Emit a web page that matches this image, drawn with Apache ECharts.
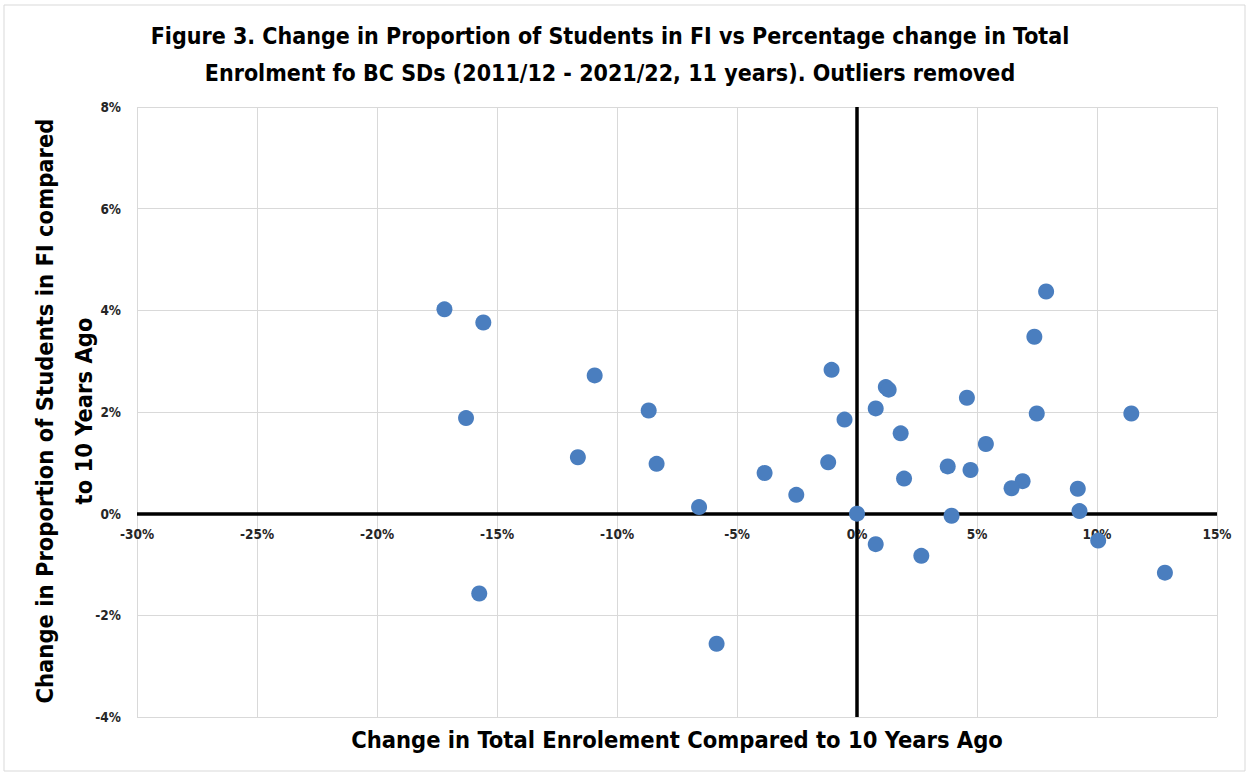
<!DOCTYPE html>
<html>
<head>
<meta charset="utf-8">
<script src="https://cdn.jsdelivr.net/npm/echarts@6/dist/echarts.min.js"></script>
<style>
html,body{margin:0;padding:0;background:#fff;}
#chart{width:1248px;height:773px;}
</style>
</head>
<body>
<div id="chart"></div>
<script>
// Change in total enrolment (%) for each BC school district
const enrolChange = [
  -17.19, -15.57, -10.93, -16.29, -8.68, -11.63, -8.35, -3.85, -6.58, -15.74,
  7.88, 7.39, -1.06, 1.20, 1.32, 4.58, 0.78, 7.49, 11.43, -0.52,
  1.82, 5.37, -1.20, 3.78, 4.73, 1.96, 6.90, 6.44, 9.20, -2.53,
  0.00, 3.94, 9.27, 0.78, 2.68, 10.05, 12.83, -5.85
];
// Change in proportion of students in FI (%)
const fiChange = [
  4.02, 3.76, 2.72, 1.88, 2.03, 1.11, 0.98, 0.80, 0.13, -1.57,
  4.37, 3.48, 2.83, 2.49, 2.44, 2.28, 2.07, 1.97, 1.97, 1.85,
  1.58, 1.37, 1.01, 0.93, 0.86, 0.69, 0.64, 0.50, 0.49, 0.37,
  0.00, -0.04, 0.05, -0.60, -0.83, -0.53, -1.16, -2.56
];
const xTicks = { min: -30, max: 15, step: 5 };
const yTicks = { min: -4, max: 8, step: 2 };
const titleLines = [
  'Figure 3. Change in Proportion of Students in FI vs Percentage change in Total',
  'Enrolment fo BC SDs (2011/12 - 2021/22, 11 years). Outliers removed'
];
const xTitle = 'Change in Total Enrolement Compared to 10 Years Ago';
const yTitleLines = ['Change in Proportion of Students in FI compared', 'to 10 Years Ago'];

const points = enrolChange.map((x, i) => [x, fiChange[i]]);

const narrow = '"Liberation Sans Narrow","DejaVu Sans Condensed","Open Sans",sans-serif';
const gridTop = 107, gridBottom = 56, gridH = 773 - gridTop - gridBottom;
// distance of y = 0 above the bottom of the plot, so x labels sit under the zero line
const zeroOffset = gridH * (0 - yTicks.min) / (yTicks.max - yTicks.min);

const chart = echarts.init(document.getElementById('chart'), null, { renderer: 'svg' });
chart.setOption({
  animation: false,
  backgroundColor: '#ffffff',
  grid: { left: 137, right: 31, top: gridTop, bottom: gridBottom, containLabel: false },
  xAxis: {
    type: 'value', min: xTicks.min, max: xTicks.max, interval: xTicks.step,
    position: 'bottom',
    offset: -zeroOffset,
    axisLine: { show: false, onZero: false },
    axisTick: { show: false },
    axisLabel: { formatter: '{value}%', color: '#262626', fontWeight: 'bold', fontSize: 13.5, fontFamily: narrow, margin: 13 },
    splitLine: { show: true, lineStyle: { color: '#d9d9d9', width: 1 } }
  },
  yAxis: {
    type: 'value', min: yTicks.min, max: yTicks.max, interval: yTicks.step,
    axisLine: { show: false, onZero: false },
    axisTick: { show: false },
    axisLabel: { formatter: '{value}%', color: '#262626', fontWeight: 'bold', fontSize: 13.5, fontFamily: narrow, margin: 16 },
    splitLine: { show: true, lineStyle: { color: '#d9d9d9', width: 1 } }
  },
  series: [{
    type: 'scatter',
    data: points,
    symbol: 'circle',
    symbolSize: 16,
    itemStyle: { color: '#4a7ebf', opacity: 1 },
    z: 5,
    markLine: {
      silent: true, symbol: 'none', label: { show: false },
      lineStyle: { color: '#000', width: 3.5, type: 'solid' },
      data: [{ xAxis: 0 }, { yAxis: 0 }],
      z: 3
    }
  }],
  graphic: [
    { type: 'rect', shape: { x: 4, y: 5, width: 1241, height: 766 }, style: { fill: 'none', stroke: '#d9d9d9', lineWidth: 1 }, silent: true },
    { type: 'text', x: 610, y: 36, style: { text: titleLines[0], font: 'bold 23px ' + narrow, fill: '#000', textAlign: 'center', textVerticalAlign: 'middle' } },
    { type: 'text', x: 610, y: 73, style: { text: titleLines[1], font: 'bold 23px ' + narrow, fill: '#000', textAlign: 'center', textVerticalAlign: 'middle' } },
    { type: 'text', x: 677, y: 740, style: { text: xTitle, font: 'bold 23.5px ' + narrow, fill: '#000', textAlign: 'center', textVerticalAlign: 'middle' } },
    { type: 'text', x: 45, y: 411, rotation: Math.PI / 2, style: { text: yTitleLines[0], font: 'bold 23.5px ' + narrow, fill: '#000', textAlign: 'center', textVerticalAlign: 'middle' } },
    { type: 'text', x: 84, y: 411, rotation: Math.PI / 2, style: { text: yTitleLines[1], font: 'bold 23.5px ' + narrow, fill: '#000', textAlign: 'center', textVerticalAlign: 'middle' } }
  ]
});
</script>
</body>
</html>
